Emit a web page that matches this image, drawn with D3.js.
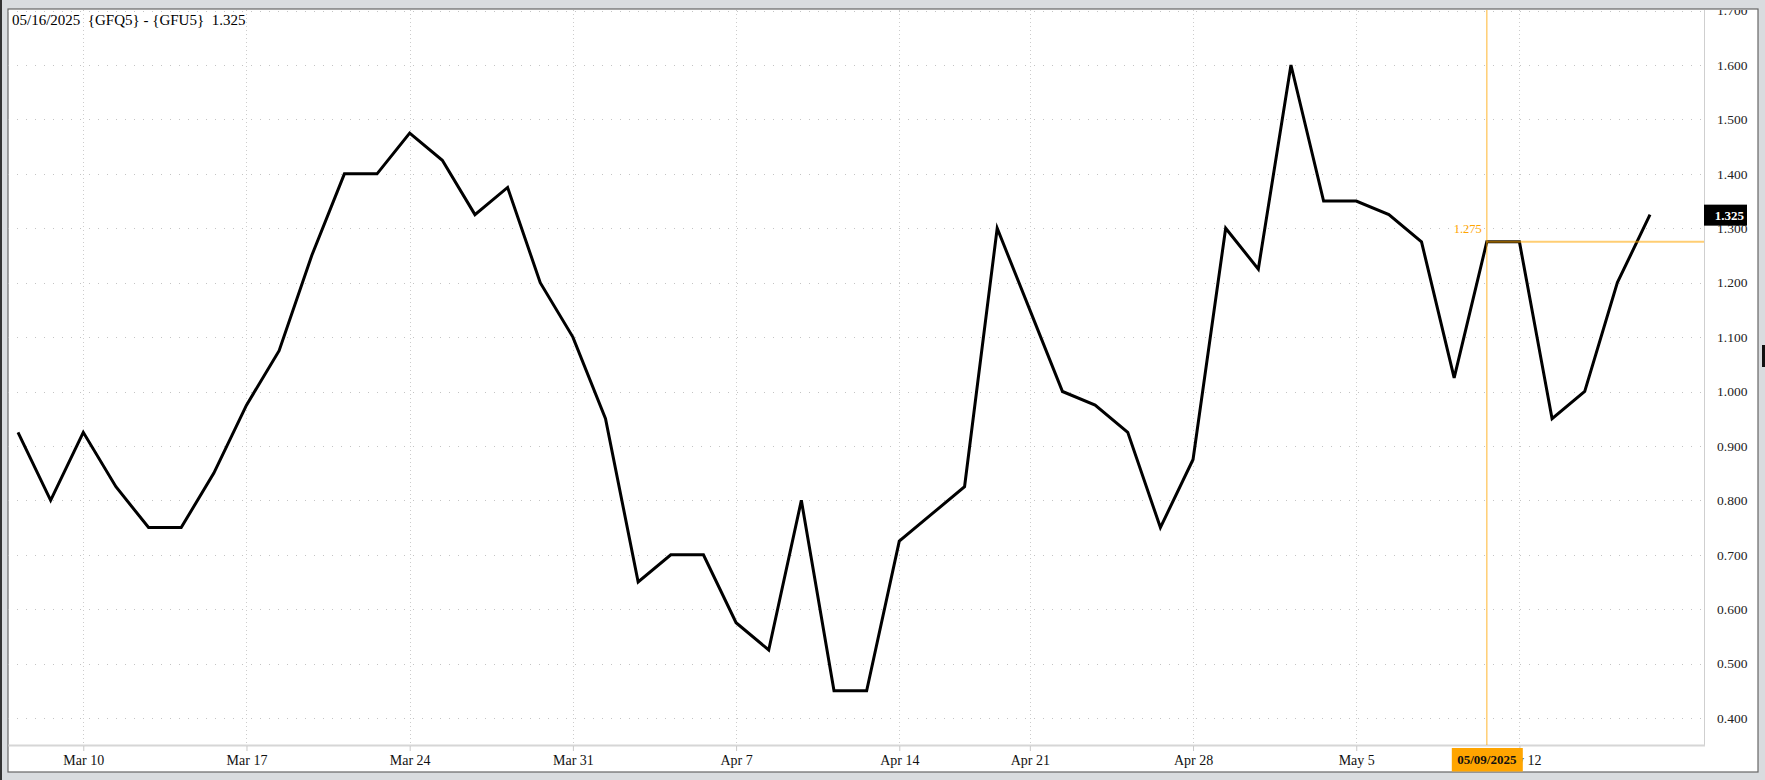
<!DOCTYPE html>
<html>
<head>
<meta charset="utf-8">
<script src="https://cdn.jsdelivr.net/npm/d3@7"></script>
<style>
html,body{margin:0;padding:0;background:#d9dcdf;}
svg{display:block;}
text{font-family:"Liberation Serif","DejaVu Serif",serif;}
</style>
</head>
<body>
<svg id="chart" width="1765" height="780"></svg>
<script>
const dates = ["2025-03-06","2025-03-07","2025-03-10","2025-03-11","2025-03-12","2025-03-13","2025-03-14",
"2025-03-17","2025-03-18","2025-03-19","2025-03-20","2025-03-21",
"2025-03-24","2025-03-25","2025-03-26","2025-03-27","2025-03-28",
"2025-03-31","2025-04-01","2025-04-02","2025-04-03","2025-04-04",
"2025-04-07","2025-04-08","2025-04-09","2025-04-10","2025-04-11",
"2025-04-14","2025-04-15","2025-04-16","2025-04-17",
"2025-04-21","2025-04-22","2025-04-23","2025-04-24","2025-04-25",
"2025-04-28","2025-04-29","2025-04-30","2025-05-01","2025-05-02",
"2025-05-05","2025-05-06","2025-05-07","2025-05-08","2025-05-09",
"2025-05-12","2025-05-13","2025-05-14","2025-05-15","2025-05-16"];
const spread = [0.925,0.800,0.925,0.825,0.750,0.750,0.850,
0.975,1.075,1.250,1.400,1.400,
1.475,1.425,1.325,1.375,1.200,
1.100,0.950,0.650,0.700,0.700,
0.575,0.525,0.800,0.450,0.450,
0.725,0.775,0.825,1.300,
1.150,1.000,0.975,0.925,0.750,
0.875,1.300,1.225,1.600,1.350,
1.350,1.325,1.275,1.025,1.275,
1.275,0.950,1.000,1.200,1.325];
const tickDates = ["2025-03-10","2025-03-17","2025-03-24","2025-03-31","2025-04-07","2025-04-14","2025-04-21","2025-04-28","2025-05-05","2025-05-12"];
const tickLabels = ["Mar 10","Mar 17","Mar 24","Mar 31","Apr 7","Apr 14","Apr 21","Apr 28","May 5","May 12"];
const yTicks = [0.4,0.5,0.6,0.7,0.8,0.9,1.0,1.1,1.2,1.3,1.4,1.5,1.6,1.7];
const titleText = "05/16/2025\u00a0 {GFQ5} - {GFU5}\u00a0 1.325";
const lastValue = 1.325;
const crossDate = "2025-05-09";
const crossValue = 1.275;
const crossDateLabel = "05/09/2025";
const footerText = "Copyright Lowell View Mon Mar 17th 2025 0:05:00";

const svg = d3.select("#chart");
const P = {left:8, top:10, right:1704, bottom:745};
const panel = {x:8, y:9, w:1750, h:763};

// outer decorations
svg.append("rect").attr("x",0).attr("y",0).attr("width",2).attr("height",780).attr("fill","#333");
svg.append("rect").attr("x",1762).attr("y",345).attr("width",3).attr("height",22).attr("fill","#111");
svg.append("text").attr("x",10).attr("y",789).attr("font-size",13).attr("fill","#111").text(footerText);

svg.append("rect").attr("x",panel.x).attr("y",panel.y).attr("width",panel.w).attr("height",panel.h)
  .attr("fill","#fff").attr("stroke","#666").attr("stroke-width",1.2);

svg.append("defs").append("clipPath").attr("id","pclip").append("rect")
  .attr("x",panel.x+0.5).attr("y",panel.y+1).attr("width",panel.w-1).attr("height",panel.h-1.5);
svg.append("defs").append("clipPath").attr("id","plotclip").append("rect")
  .attr("x",P.left).attr("y",P.top).attr("width",P.right-P.left).attr("height",P.bottom-P.top);

const x = d3.scalePoint().domain(dates).range([18,1650]);
const y = d3.scaleLinear().domain([0.4,1.6]).range([718,65]);

const g = svg.append("g").attr("clip-path","url(#pclip)");

// horizontal grid
g.append("g").attr("clip-path","url(#plotclip)").selectAll("line.h").data(yTicks).join("line")
  .attr("x1",P.left).attr("x2",P.right).attr("y1",d=>Math.round(y(d))+0.5).attr("y2",d=>Math.round(y(d))+0.5)
  .attr("stroke","#c4c4c4").attr("stroke-width",1).attr("stroke-dasharray","1,8");
// vertical grid
g.append("g").attr("clip-path","url(#plotclip)").selectAll("line.v").data(tickDates).join("line")
  .attr("x1",d=>Math.round(x(d))+0.5).attr("x2",d=>Math.round(x(d))+0.5).attr("y1",P.top).attr("y2",P.bottom)
  .attr("stroke","#cccccc").attr("stroke-width",1).attr("stroke-dasharray","1,3");

// plot borders (right and bottom)
g.append("line").attr("x1",P.right+0.5).attr("x2",P.right+0.5).attr("y1",P.top).attr("y2",P.bottom+1)
  .attr("stroke","#cfcfcf").attr("stroke-width",1);
g.append("line").attr("x1",P.left).attr("x2",P.right+1).attr("y1",P.bottom+0.5).attr("y2",P.bottom+0.5)
  .attr("stroke","#d6d6d6").attr("stroke-width",2);

// x axis
const xAxis = d3.axisBottom(x).tickValues(tickDates).tickSize(5).tickPadding(4)
  .tickFormat((d,i)=>tickLabels[i]);
const xg = g.append("g").attr("transform",`translate(0,${P.bottom+1})`).call(xAxis);
xg.select(".domain").remove();
xg.selectAll(".tick line").attr("stroke","#c8c8c8");
xg.selectAll(".tick text").attr("font-size",14).attr("fill","#111")
  .attr("font-family","Liberation Serif, serif");

// y axis (right)
const yAxis = d3.axisRight(y).tickValues(yTicks).tickSize(0).tickPadding(13).tickFormat(d3.format(".3f"));
const yg = g.append("g").attr("transform",`translate(${P.right},0)`).call(yAxis);
yg.select(".domain").remove();
yg.selectAll(".tick text").attr("font-size",13.5).attr("fill","#222")
  .attr("font-family","Liberation Serif, serif");

// data line
const line = d3.line().x((d,i)=>x(dates[i])).y(d=>y(d));
g.append("path").datum(spread).attr("d",line).attr("fill","none")
  .attr("stroke","#000").attr("stroke-width",3).attr("stroke-linejoin","miter");

// crosshair
const cx = x(crossDate), cy = y(crossValue);
g.append("line").attr("x1",cx).attr("x2",cx).attr("y1",P.top).attr("y2",P.bottom)
  .attr("stroke","#ffa500").attr("stroke-opacity",0.55).attr("stroke-width",1.5);
g.append("line").attr("x1",cx).attr("x2",P.right).attr("y1",cy).attr("y2",cy)
  .attr("stroke","#ffa500").attr("stroke-opacity",0.55).attr("stroke-width",2);
g.append("text").attr("x",cx-5).attr("y",cy-9).attr("text-anchor","end")
  .attr("font-size",12.5).attr("fill","#ffa500").text(d3.format(".3f")(crossValue));

// last value box
const ly = y(lastValue);
g.append("rect").attr("x",P.right).attr("y",ly-10).attr("width",43).attr("height",21).attr("fill","#000");
g.append("text").attr("x",P.right+40).attr("y",ly+5).attr("text-anchor","end")
  .attr("font-size",13).attr("font-weight","bold").attr("fill","#fff").text(d3.format(".3f")(lastValue));

// crosshair date box
g.append("rect").attr("x",cx-35).attr("y",748).attr("width",71).attr("height",24).attr("fill","#ffa500");
g.append("text").attr("x",cx).attr("y",764).attr("text-anchor","middle")
  .attr("font-size",13).attr("font-weight","bold").attr("fill","#111").text(crossDateLabel);

// title
g.append("text").attr("x",12).attr("y",25).attr("font-size",15).attr("fill","#000").text(titleText);
</script>
</body>
</html>
